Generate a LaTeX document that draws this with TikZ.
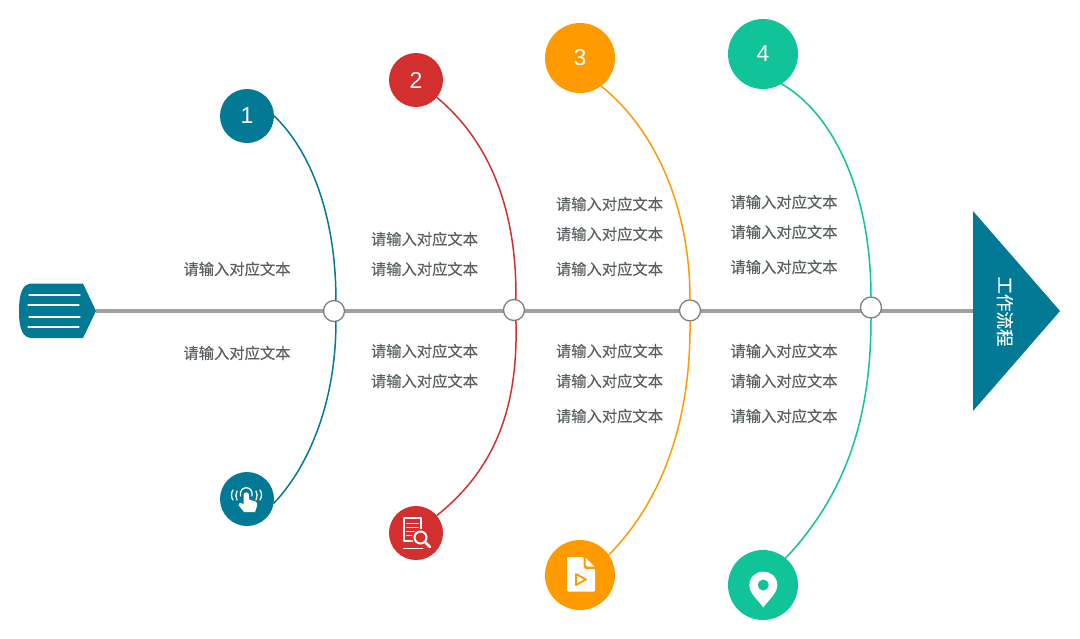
\documentclass[tikz,border=0pt]{standalone}
\usepackage{fontspec}
\setmainfont{Liberation Sans}
\newfontfamily\cjk[FakeBold=0.35]{Noto Sans CJK SC}
\definecolor{tealc}{HTML}{027A96}
\definecolor{redc}{HTML}{D32F2F}
\definecolor{orangec}{HTML}{FF9A00}
\definecolor{greenc}{HTML}{10C398}
\definecolor{spinec}{HTML}{A0A0A0}
\definecolor{jointc}{HTML}{7F7F7F}
\definecolor{textc}{HTML}{5A6062}
\tikzset{
  smallball/.style={circle, fill=#1, minimum size=54pt, inner sep=0pt, text=white, font=\fontsize{23}{26}\selectfont},
  bigball/.style={circle, fill=#1, minimum size=70pt, inner sep=0pt, text=white, font=\fontsize{23}{26}\selectfont},
  joint/.style={circle, draw=jointc, fill=white, line width=1.3pt, minimum size=21pt, inner sep=0pt},
  rib/.style={line width=1.5pt, #1},
  note/.style={text=textc, inner sep=0pt, font=\cjk\fontsize{15.3}{18}\selectfont},
}
\begin{document}
\begin{tikzpicture}[x=1pt, y=-1pt, line cap=round, line join=round]

  %% ==== tail and head ====
  \fill[tealc] (32,283.5) -- (83,283.5) -- (96,311) -- (83,338) -- (32,338)
    .. controls (23,338) and (19,330) .. (19,311) .. controls (19,292) and (23,283.5) .. (32,283.5);
  \draw[white, line width=1.1pt] (29,295) -- (80,295);
  \draw[white, line width=1.1pt] (28,305) -- (79,305);
  \draw[white, line width=1.1pt] (29,317) -- (80,317);
  \draw[white, line width=1.1pt] (28,327) -- (79,327);
  \fill[tealc] (973,211) -- (1060,311) -- (973,411) -- cycle;
  \coordinate (tailtip) at (96,311);
  \coordinate (headbase) at (973,311);

  %% ==== spine ====
  \draw[spinec, line width=4.5pt, line cap=butt] (tailtip) -- (headbase);

  %% ==== balls and joints ====
  \node[smallball=tealc] (num1) at (247,116) {1};
  \node[smallball=redc] (num2) at (416,80) {2};
  \node[bigball=orangec] (num3) at (580,58) {3};
  \node[bigball=greenc] (num4) at (763,54) {4};
  \node[smallball=tealc] (icon1) at (247,499) {};
  \node[smallball=redc] (icon2) at (416,533) {};
  \node[bigball=orangec] (icon3) at (580,575) {};
  \node[bigball=greenc] (icon4) at (763,585) {};
  \node[joint] (joint1) at (334,311) {};
  \node[joint] (joint2) at (514,310) {};
  \node[joint] (joint3) at (690,310.4) {};
  \node[joint] (joint4) at (871,307.5) {};

  %% ==== ribs ====
  \draw[rib=tealc] (num1.east) .. controls (310,150) and (336,215) .. (joint1.80);
  \draw[rib=tealc] (joint1.-80) .. controls (336,400) and (310,465) .. (icon1.-9);
  \draw[rib=redc] (num2.-40) .. controls (480,133) and (517,195) .. (joint2.80);
  \draw[rib=redc] (joint2.-80) .. controls (518,400) and (500,465) .. (icon2.40);
  \draw[rib=orangec] (num3.-53) .. controls (650,125) and (690,200) .. (joint3.north);
  \draw[rib=orangec] (joint3.south) .. controls (691,410) and (668,495) .. (icon3.35);
  \draw[rib=greenc] (num4.-58) .. controls (835,115) and (871,195) .. (joint4.north);
  \draw[rib=greenc] (joint4.south) .. controls (871,410) and (850,490) .. (icon4.50);

  %% ==== head label ====
  \node[text=white, rotate=-90, inner sep=0pt, font=\cjk\fontsize{17.5}{20}\selectfont] (headlabel) at (1005,311.5) {工作流程};

  %% ==== notes ====
  \node[note] (n11) at (237,269) {请输入对应文本};
  \node[note] (n12) at (237,353) {请输入对应文本};
  \node[note] (n21) at (424.5,239) {请输入对应文本};
  \node[note] (n22) at (424.5,269) {请输入对应文本};
  \node[note] (n23) at (424.5,351) {请输入对应文本};
  \node[note] (n24) at (424.5,381) {请输入对应文本};
  \node[note] (n31) at (609.5,204) {请输入对应文本};
  \node[note] (n32) at (609.5,234) {请输入对应文本};
  \node[note] (n33) at (609.5,269) {请输入对应文本};
  \node[note] (n34) at (609.5,351) {请输入对应文本};
  \node[note] (n35) at (609.5,381) {请输入对应文本};
  \node[note] (n36) at (609.5,416) {请输入对应文本};
  \node[note] (n41) at (784,202) {请输入对应文本};
  \node[note] (n42) at (784,232) {请输入对应文本};
  \node[note] (n43) at (784,267) {请输入对应文本};
  \node[note] (n44) at (784,351) {请输入对应文本};
  \node[note] (n45) at (784,381) {请输入对应文本};
  \node[note] (n46) at (784,416) {请输入对应文本};

  %% ==== icon 1: hand ====
  \fill[white] (243.5,495) .. controls (243.5,491.5) and (249,491.5) .. (249,495) -- (249,499.5) -- (255.5,501.5)
    .. controls (257.5,502.5) and (257.5,504) .. (257,506) -- (255,512) -- (244,512) -- (238.5,505)
    .. controls (238,502.5) and (241,502) .. (243.5,504.5) -- cycle;
  \draw[white, line width=1.3pt] (240.5,496) .. controls (238.5,485) and (254,485) .. (252,496);
  \draw[white, line width=1.3pt] (237,491) .. controls (235.5,494) and (235.5,497) .. (237,500);
  \draw[white, line width=1.3pt] (233,490) .. controls (231,493) and (231,497) .. (233,500);
  \draw[white, line width=1.3pt] (256,491) .. controls (257.5,494) and (257.5,497) .. (256,500);
  \draw[white, line width=1.3pt] (260,490) .. controls (262,493) and (262,497) .. (260,500);

  %% ==== icon 2: report ====
  \draw[white, line width=2pt] (404,518) rectangle (421,541);
  \draw[white, line width=1.6pt] (407,523.5) -- (418,523.5);
  \draw[white, line width=1.6pt] (407,527.5) -- (418,527.5);
  \draw[white, line width=1.6pt] (407,531.5) -- (415,531.5);
  \draw[white, line width=1.6pt] (407,535.5) -- (412,535.5);
  \fill[redc] (420.5,537.5) circle (8.5);
  \draw[white, line width=2pt] (420.5,537.5) circle (6);
  \draw[white, line width=2.8pt] (425.5,542.5) -- (430,547);
  \draw[white, line width=0.8pt] (403.5,548.5) -- (423,548.5);

  %% ==== icon 3: file ====
  \fill[white, rounded corners=1pt] (567,557) -- (583.5,557) -- (583.5,565) .. controls (583.5,567.5) and (585,569) .. (587,569) -- (595,569) -- (595,591.5) -- (567,591.5) -- cycle;
  \fill[white] (585.5,557.5) -- (594.5,566.5) -- (588,566.5) .. controls (586.5,566.5) and (585.5,565.5) .. (585.5,564) -- cycle;
  \draw[orangec, line width=1.8pt] (576,574) -- (586,579.5) -- (576,585) -- cycle;

  %% ==== icon 4: pin ====
  \fill[white] (763.3,607.5) .. controls (758,600) and (749.3,593) .. (749.3,585.5)
    .. controls (749.3,567) and (777.3,567) .. (777.3,585.5)
    .. controls (777.3,593) and (768.6,600) .. (763.3,607.5) -- cycle;
  \fill[greenc] (763.3,585) circle (5.5);

  \pgfresetboundingbox
  \path[use as bounding box] (0,0) rectangle (1080,638);
\end{tikzpicture}
\end{document}
